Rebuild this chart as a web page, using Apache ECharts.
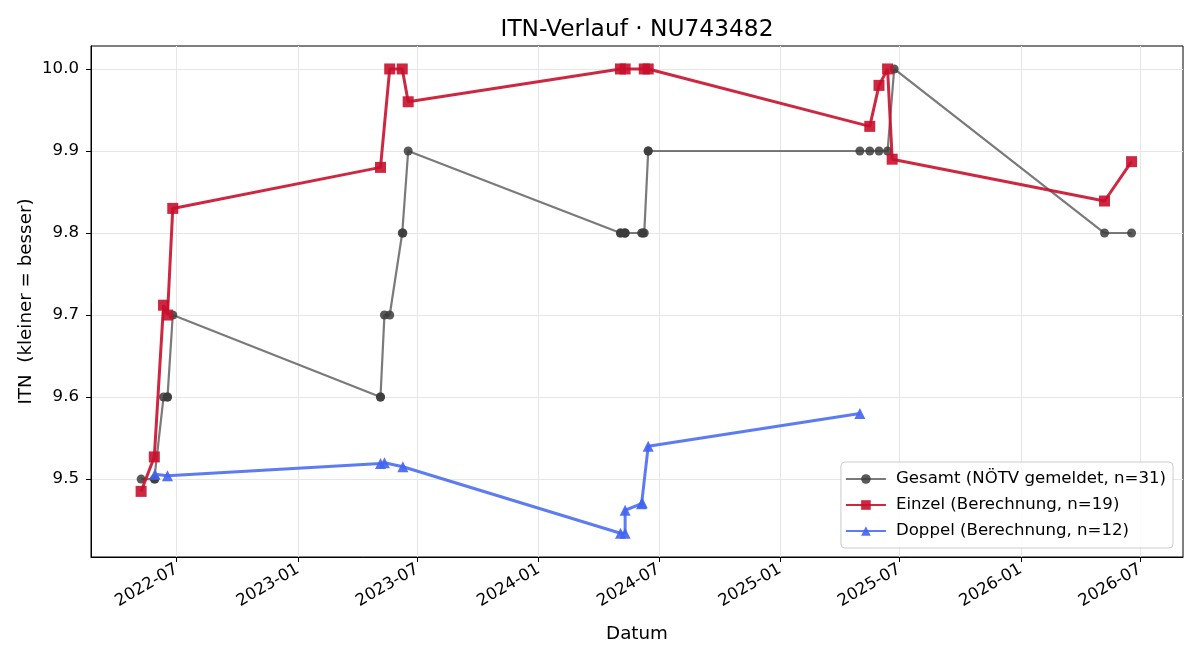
<!DOCTYPE html>
<html>
<head>
<meta charset="utf-8">
<script src="https://cdn.jsdelivr.net/npm/echarts@6/dist/echarts.min.js"></script>
<style>html,body{margin:0;padding:0;background:#fff}#c{width:1200px;height:660px}</style>
</head>
<body>
<div id="c"></div>
<script>
// ---- data ----
const gesamtDates = [
  '2022-05-08','2022-05-28','2022-05-29','2022-06-11','2022-06-17','2022-06-17','2022-06-25',
  '2023-05-06','2023-05-06','2023-05-12','2023-05-20','2023-06-08','2023-06-09','2023-06-17',
  '2024-05-04','2024-05-04','2024-05-10','2024-05-11','2024-05-11','2024-06-05','2024-06-07','2024-06-09','2024-06-15','2024-06-15',
  '2025-05-02','2025-05-17','2025-05-31','2025-06-13','2025-06-23',
  '2026-05-08','2026-06-18'
];
const gesamtValues = [
  9.5, 9.5, 9.5, 9.6, 9.6, 9.6, 9.7,
  9.6, 9.6, 9.7, 9.7, 9.8, 9.8, 9.9,
  9.8, 9.8, 9.8, 9.8, 9.8, 9.8, 9.8, 9.8, 9.9, 9.9,
  9.9, 9.9, 9.9, 9.9, 10.0,
  9.8, 9.8
];
const einzelDates = [
  '2022-05-08','2022-05-28','2022-06-11','2022-06-17','2022-06-25',
  '2023-05-06','2023-05-20','2023-06-08','2023-06-17',
  '2024-05-04','2024-05-11','2024-06-09','2024-06-15',
  '2025-05-17','2025-05-31','2025-06-13','2025-06-20',
  '2026-05-08','2026-06-18'
];
const einzelValues = [
  9.485, 9.527, 9.712, 9.700, 9.830,
  9.880, 10.0, 10.0, 9.960,
  10.0, 10.0, 10.0, 10.0,
  9.930, 9.980, 10.0, 9.890,
  9.839, 9.887
];
const doppelDates = [
  '2022-05-29','2022-06-17',
  '2023-05-06','2023-05-12','2023-06-09',
  '2024-05-04','2024-05-11','2024-05-11','2024-06-05','2024-06-06','2024-06-15',
  '2025-05-02'
];
const doppelValues = [
  9.506, 9.504,
  9.519, 9.520, 9.515,
  9.434, 9.434, 9.462, 9.470, 9.471, 9.540,
  9.580
];
const xTickLabels = ['2022-07','2023-01','2023-07','2024-01','2024-07','2025-01','2025-07','2026-01','2026-07'];
const yTicks = [9.5, 9.6, 9.7, 9.8, 9.9, 10.0];
const seriesNames = ['Gesamt (NÖTV gemeldet, n=31)', 'Einzel (Berechnung, n=19)', 'Doppel (Berechnung, n=12)'];

const ts = s => Date.UTC(+s.slice(0, 4), +s.slice(5, 7) - 1, s.length > 7 ? +s.slice(8, 10) : 1);
const zip = (d, v) => d.map((x, i) => [ts(x), v[i]]);
const xTickValues = xTickLabels.map(ts);
const FONT = 'DejaVu Sans';

const chart = echarts.init(document.getElementById('c'), null, {renderer: 'canvas'});
chart.setOption({
  animation: false,
  backgroundColor: '#fff',
  textStyle: {fontFamily: FONT},
  title: {
    text: 'ITN-Verlauf · NU743482',
    left: 632, top: 13, textAlign: 'center',
    textStyle: {fontFamily: FONT, fontSize: 23.3, fontWeight: 'normal', color: '#000'}
  },
  grid: {left: 91, right: 17, top: 46, bottom: 103, show: true, borderColor: '#000', borderWidth: 1, backgroundColor: 'transparent'},
  legend: {
    orient: 'vertical', right: 27, bottom: 112,
    data: seriesNames,
    backgroundColor: 'rgba(255,255,255,0.85)', borderColor: '#cccccc', borderWidth: 1, borderRadius: 4,
    padding: [8, 7, 8, 4],
    itemWidth: 40, itemHeight: 12, itemGap: 8,
    textStyle: {fontFamily: FONT, fontSize: 16.6, lineHeight: 18, color: '#000', padding: [0, 0, 0, 5]}
  },
  xAxis: {
    type: 'value',
    min: ts('2022-02-21'),
    max: ts('2026-09-04'),
    name: 'Datum', nameLocation: 'middle', nameGap: 68, nameMoveOverlap: false,
    nameTextStyle: {fontFamily: FONT, fontSize: 18.3, color: '#000'},
    axisLine: {show: true, lineStyle: {color: '#000', width: 1}},
    axisTick: {show: true, length: 5, lineStyle: {color: '#000'}, customValues: xTickValues},
    axisLabel: {
      customValues: xTickValues, rotate: 30, fontFamily: FONT, fontSize: 16.6, color: '#000', margin: 11,
      formatter: v => { const d = new Date(v); return d.getUTCFullYear() + '-' + String(d.getUTCMonth() + 1).padStart(2, '0'); }
    },
    splitLine: {show: true, lineStyle: {color: '#e6e6e6', width: 1}}
  },
  yAxis: {
    type: 'value', min: 9.405, max: 10.028,
    name: 'ITN  (kleiner = besser)', nameLocation: 'middle', nameGap: 56, nameMoveOverlap: false,
    nameTextStyle: {fontFamily: FONT, fontSize: 18.3, color: '#000'},
    axisLine: {show: true, lineStyle: {color: '#000', width: 1}},
    axisTick: {show: true, length: 5, lineStyle: {color: '#000'}, customValues: yTicks},
    axisLabel: {customValues: yTicks, fontFamily: FONT, fontSize: 16.6, color: '#000', margin: 12, formatter: v => v.toFixed(1)},
    splitLine: {show: true, lineStyle: {color: '#e6e6e6', width: 1}}
  },
  series: [
    {
      name: seriesNames[0], type: 'line', data: zip(gesamtDates, gesamtValues),
      symbol: 'circle', symbolSize: 9, z: 2,
      lineStyle: {color: 'rgba(70,70,70,0.72)', width: 2.2},
      itemStyle: {color: 'rgba(60,60,60,0.85)', borderWidth: 0}
    },
    {
      name: seriesNames[1], type: 'line', data: zip(einzelDates, einzelValues),
      symbol: 'rect', symbolSize: 11, z: 3,
      lineStyle: {color: 'rgba(200,16,46,0.9)', width: 3},
      itemStyle: {color: 'rgba(200,16,46,0.9)', borderWidth: 0}
    },
    {
      name: seriesNames[2], type: 'line', data: zip(doppelDates, doppelValues),
      symbol: 'triangle', symbolSize: 11, z: 4,
      lineStyle: {color: 'rgba(65,100,240,0.85)', width: 3},
      itemStyle: {color: 'rgba(65,100,240,0.9)', borderWidth: 0}
    }
  ]
});
</script>
</body>
</html>
